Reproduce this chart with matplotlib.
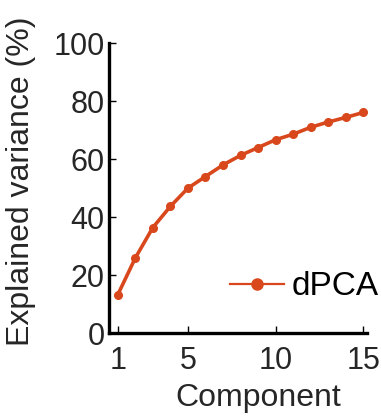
"""Cumulative explained variance of dPCA components."""

import matplotlib
matplotlib.use("Agg")
import matplotlib.pyplot as plt

plt.rcParams["font.family"] = ["Liberation Sans", "DejaVu Sans"]

# ── Data ────────────────────────────────────────────────────────────────
components = list(range(1, 16))
explained = [13.2, 25.9, 36.4, 43.7, 50.0, 54.0, 58.0, 61.3, 64.0,
             66.7, 68.6, 71.0, 72.8, 74.4, 76.1]
x_ticks = [1, 5, 10, 15]
y_ticks = [0, 20, 40, 60, 80, 100]

LINE_COLOR = "#d9481c"
TEXT_COLOR = "#262626"


def main():
    fig = plt.figure(figsize=(3.81, 4.19), dpi=100)
    ax = fig.add_axes([0.286, 0.205, 0.677, 0.692])

    ax.plot(components, explained, color=LINE_COLOR, lw=2.6,
            marker="o", ms=5.5, mec=LINE_COLOR, label="dPCA")

    ax.set_xlim(0.5, 15.2)
    ax.set_ylim(0, 100)
    ax.set_xticks(x_ticks)
    ax.set_yticks(y_ticks)

    for side in ("top", "right"):
        ax.spines[side].set_visible(False)
    for side in ("left", "bottom"):
        ax.spines[side].set_linewidth(2.4)
        ax.spines[side].set_color("black")

    ax.tick_params(direction="in", length=5, width=1, labelsize=22,
                   labelcolor=TEXT_COLOR, color="black")
    ax.tick_params(axis="x", pad=9)
    ax.tick_params(axis="y", pad=3)

    ax.set_xlabel("Component", fontsize=23, color=TEXT_COLOR)
    ax.set_ylabel("Explained variance (%)", fontsize=23, color=TEXT_COLOR)
    ax.xaxis.set_label_coords(0.579, -0.172)
    ax.yaxis.set_label_coords(-0.282, 0.524)

    leg = ax.legend(loc="center right", frameon=False, fontsize=24,
                    handlelength=1.6, handletextpad=0.25,
                    bbox_to_anchor=(1.099, 0.16), borderaxespad=0)
    for h in leg.legend_handles:
        h.set_linewidth(1.6)
        h.set_markersize(8)
    for t in leg.get_texts():
        t.set_color("black")

    fig.savefig("out.png", dpi=100, facecolor="white")
    plt.close(fig)


if __name__ == "__main__":
    main()
